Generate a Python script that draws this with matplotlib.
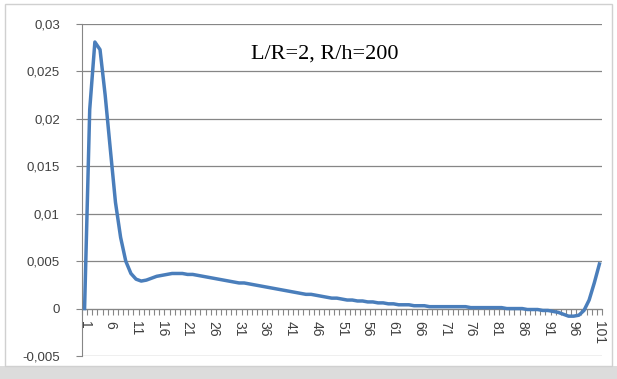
import numpy as np
import matplotlib
matplotlib.use('Agg')
import matplotlib.pyplot as plt
from matplotlib.patches import Rectangle

# data (category 1..101)
categories = np.arange(1, 102)
values = [
    0.0, 0.021, 0.0281, 0.0273, 0.0225, 0.0168, 0.0112, 0.0075, 0.0050, 0.0037,     # 1-10
    0.0031, 0.0029, 0.0030, 0.0032, 0.0034, 0.0035, 0.0036, 0.0037, 0.0037, 0.0037, # 11-20
    0.0036, 0.0036, 0.0035, 0.0034, 0.0033, 0.0032, 0.0031, 0.0030, 0.0029, 0.0028, # 21-30
    0.0027, 0.0027, 0.0026, 0.0025, 0.0024, 0.0023, 0.0022, 0.0021, 0.0020, 0.0019, # 31-40
    0.0018, 0.0017, 0.0016, 0.0015, 0.0015, 0.0014, 0.0013, 0.0012, 0.0011, 0.0011, # 41-50
    0.0010, 0.0009, 0.0009, 0.0008, 0.0008, 0.0007, 0.0007, 0.0006, 0.0006, 0.0005, # 51-60
    0.0005, 0.0004, 0.0004, 0.0004, 0.0003, 0.0003, 0.0003, 0.0002, 0.0002, 0.0002, # 61-70
    0.0002, 0.0002, 0.0002, 0.0002, 0.0002, 0.0001, 0.0001, 0.0001, 0.0001, 0.0001, # 71-80
    0.0001, 0.0001, 0.0, 0.0, 0.0, 0.0, -0.0001, -0.0001, -0.0001, -0.0002,         # 81-90
    -0.0002, -0.0003, -0.0004, -0.0006, -0.0008, -0.0008, -0.0007, -0.0002, 0.0009, 0.0027, # 91-100
    0.0047,                                                                          # 101
]
xtick_values = list(range(1, 102, 5))
ytick_values = [-0.005, 0, 0.005, 0.01, 0.015, 0.02, 0.025, 0.03]
ytick_labels = ['-0,005', '0', '0,005', '0,01', '0,015', '0,02', '0,025', '0,03']
title = 'L/R=2, R/h=200'

grey = '#868686'
blue = '#4a7ebb'

fig = plt.figure(figsize=(6.17, 3.79), dpi=100)
W, H = 617.0, 379.0

# chart frame and grey strip under it
fig.patches.append(Rectangle((0, 0), 1, 13 / H, transform=fig.transFigure,
                             facecolor='#dcdcdc', edgecolor='none', zorder=-10))
fig.patches.append(Rectangle((5 / W, 13 / H), 607 / W, 362 / H, transform=fig.transFigure,
                             facecolor='white', edgecolor='#d0d0d0', lw=1.0, zorder=-9))

ax = fig.add_axes([82 / W, 1 - 356 / H, 520 / W, 332 / H])
ax.set_facecolor('none')

# spines first: set_position resets the tick objects
ax.spines['top'].set_visible(False)
ax.spines['right'].set_visible(False)
ax.spines['bottom'].set_position(('data', 0))
ax.spines['bottom'].set_color(grey)
ax.spines['left'].set_color(grey)

ax.plot(categories, values, color=blue, lw=2.5, solid_joinstyle='round', zorder=3)

ax.set_xlim(0.5, 101.5)
ax.set_ylim(-0.005, 0.03)

ax.set_yticks(ytick_values, ytick_labels)
ax.yaxis.grid(True, color=grey, lw=0.9)
ax.set_axisbelow(True)

ax.set_xticks(xtick_values, [str(v) for v in xtick_values])
ax.set_xticks(np.arange(0.5, 102, 1), minor=True)
ax.tick_params(axis='x', which='major', length=0, pad=9, labelsize=10,
               labelcolor='#404040', labelrotation=270)
ax.tick_params(axis='x', which='minor', bottom=True, length=4, color=grey, width=0.8)
ax.tick_params(axis='y', length=4, color=grey, width=0.8, pad=12, labelsize=9.5,
               labelcolor='#404040')

for lab in ax.get_xticklabels() + ax.get_yticklabels():
    lab.set_family('Liberation Sans')

ax.text(0.467, 0.91, title, transform=ax.transAxes, ha='center', va='center',
        family='Liberation Serif', fontsize=16, color='black')

fig.savefig('out.png', dpi=100)
